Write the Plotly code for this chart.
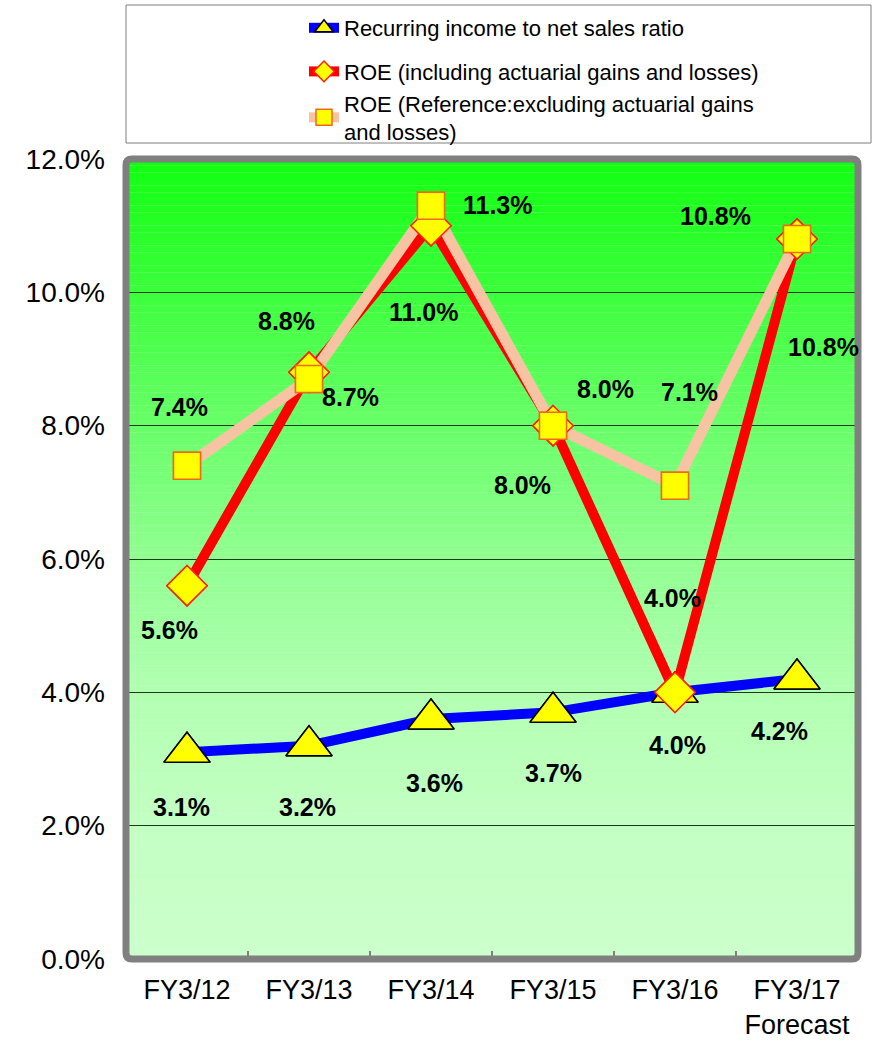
import plotly.graph_objects as go

categories = ["FY3/12", "FY3/13", "FY3/14", "FY3/15", "FY3/16", "FY3/17<br>Forecast"]
recurring = [3.1, 3.2, 3.6, 3.7, 4.0, 4.2]
roe_incl = [5.6, 8.8, 11.0, 8.0, 4.0, 10.8]
roe_ref = [7.4, 8.7, 11.3, 8.0, 7.1, 10.8]
y_ticks = [0, 2, 4, 6, 8, 10, 12]

names = ["Recurring income to net sales ratio",
         "ROE (including actuarial gains and losses)",
         "ROE (Reference:excluding actuarial gains<br>and losses)"]

# label offsets in px (dx, dy) relative to each point
off_rec = [(-6, -55), (-2, -61), (3, -64), (0, -61), (2, -53), (-18, -52)]
off_incl = [(-18, -44), (-23, 51), (-7, -86), (-31, -59), (-3, 94), (26, -108)]
off_ref = [(-8, 59), (41, -18), (67, 1), (52, 37), (14, 94), (-82, 23)]

series = [
    dict(y=recurring, name=names[0], lc="#0000ff", lw=10, sym="triangle-up", ms=40, mlc="#000000", off=off_rec, grp="g0"),
    dict(y=roe_incl, name=names[1], lc="#ff0000", lw=10, sym="diamond", ms=31, mlc="#ff2000", off=off_incl, grp="g1"),
    dict(y=roe_ref, name=names[2], lc="#f6c4a2", lw=11, sym="square", ms=27, mlc="#f06a1a", off=off_ref, grp="g1"),
]

fig = go.Figure()
for s in series:
    fig.add_trace(go.Scatter(
        x=categories, y=s["y"], name=s["name"], mode="lines+markers",
        line=dict(color=s["lc"], width=s["lw"]),
        marker=dict(symbol=s["sym"], size=s["ms"], color="#ffff00",
                    line=dict(color=s["mlc"], width=1.5)),
        legendgroup=s["grp"], hoverinfo="skip"))
for s in series:
    fig.add_trace(go.Scatter(
        x=categories, y=s["y"], mode="markers", showlegend=False,
        marker=dict(symbol=s["sym"], size=s["ms"], color="#ffff00",
                    line=dict(color=s["mlc"], width=1.5)),
        hoverinfo="skip"))

annotations = []
for s in series:
    for c, v, (dx, dy) in zip(categories, s["y"], s["off"]):
        annotations.append(dict(
            x=c, y=v, text=f"{v:.1f}%", showarrow=False, xshift=dx, yshift=dy,
            font=dict(family="Liberation Sans, Arial", size=25, color="black", weight="bold")))

# gradient background bands
stops = [(0, 204), (2, 195), (4, 178), (6, 145), (8, 105), (10, 60), (12, 17)]
def chan(v):
    for (a, ca), (b, cb) in zip(stops[:-1], stops[1:]):
        if a <= v <= b:
            return ca + (cb - ca) * (v - a) / (b - a)
    return stops[-1][1]

shapes = []
N = 120
for k in range(N):
    y0 = 12 * k / N
    y1 = 12 * (k + 1) / N
    c = int(round(chan((y0 + y1) / 2)))
    col = f"rgb({c},255,{c})"
    shapes.append(dict(type="rect", xref="x domain", yref="y", x0=0, x1=1,
                       y0=y0, y1=y1, fillcolor=col, line=dict(width=0), layer="below"))
# plot border with rounded corners (paper coords)
rx, ry = 6 / 732, 6 / 800
border_path = (f"M {rx},0 L {1 - rx},0 Q 1,0 1,{ry} L 1,{1 - ry} Q 1,1 {1 - rx},1 "
               f"L {rx},1 Q 0,1 0,{1 - ry} L 0,{ry} Q 0,0 {rx},0 Z")
shapes.append(dict(type="path", xref="paper", yref="paper", path=border_path,
                   line=dict(color="#808080", width=7), fillcolor="rgba(0,0,0,0)", layer="above"))
# legend box
shapes.append(dict(type="rect", xref="paper", yref="paper", x0=0, x1=(871 - 126) / 732,
                   y0=(959 - 143) / 800, y1=(959 - 5) / 800,
                   line=dict(color="#7f7f7f", width=1), fillcolor="white", layer="above"))

fig.update_layout(
    width=875, height=1043,
    margin=dict(l=126, r=17, t=159, b=84, autoexpand=False),
    paper_bgcolor="white", plot_bgcolor="rgb(204,255,204)",
    font=dict(family="Liberation Sans, Arial", color="black"),
    showlegend=True,
    legend=dict(x=(304 - 126) / 732, y=(959 - 7) / 800, xanchor="left", yanchor="top",
                font=dict(size=22, family="Liberation Sans, Arial", color="black"),
                bgcolor="rgba(0,0,0,0)", tracegroupgap=12, itemwidth=30),
    annotations=annotations,
    shapes=shapes,
    xaxis=dict(type="category", range=[-0.5, 5.5], showgrid=False, zeroline=False,
               ticks="inside", tickson="boundaries", ticklen=8, tickcolor="#808080",
               tickwidth=1.5, showline=False, automargin=False,
               tickfont=dict(size=27, family="Liberation Sans, Arial", color="black"),
               ticklabelstandoff=12),
    yaxis=dict(range=[0, 12], tickvals=y_ticks, ticktext=[f"{t:.1f}%" for t in y_ticks],
               showgrid=True, gridcolor="#1a3a1a", gridwidth=1, zeroline=False,
               showline=False, ticks="", automargin=False,
               tickfont=dict(size=28, family="Liberation Sans, Arial", color="black"),
               ticklabelstandoff=20),
)

fig.write_html("out.html")
